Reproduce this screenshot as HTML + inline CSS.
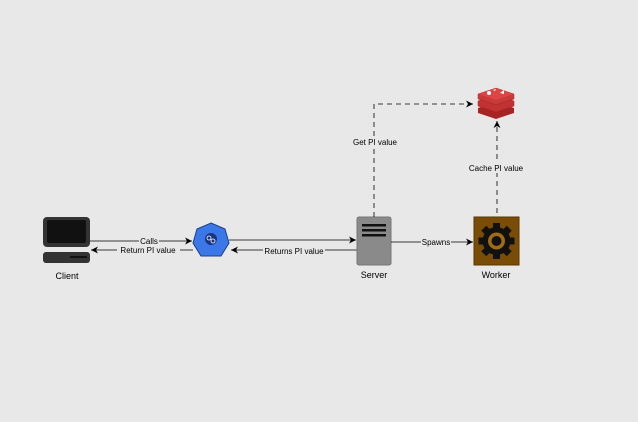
<!DOCTYPE html>
<html><head><style>
body{margin:0;background:#e8e8e8;}
svg{display:block;font-family:"Liberation Sans",sans-serif;}
</style></head><body>
<svg width="638" height="422" viewBox="0 0 638 422">
<defs>
<marker id="a" markerWidth="8" markerHeight="8" refX="7" refY="4" orient="auto" markerUnits="userSpaceOnUse"><path d="M0,0.5 L7,4 L0,7.5 L2,4z" fill="#000"/></marker>
</defs>
<rect width="638" height="422" fill="#e8e8e8"/>
<!-- Client -->
<rect x="43" y="217" width="47" height="30" rx="4" fill="#333"/>
<rect x="47" y="220" width="39" height="23" rx="2" fill="#111"/>
<rect x="43" y="252" width="47" height="11" rx="3" fill="#333"/>
<rect x="70" y="256" width="17" height="2" fill="#111"/>
<text x="67" y="279" font-size="9" text-anchor="middle">Client</text>
<!-- Hex -->
<polygon points="211,223 225,229 229,243 221,256 201,256 193,243 197,229" fill="#3b78e7" stroke="#1a3f8a" stroke-width="1"/>
<circle cx="211" cy="239" r="6" fill="#1a3480"/>
<circle cx="209" cy="238" r="2" fill="none" stroke="#fff" stroke-width="0.8"/>
<circle cx="213" cy="241" r="2" fill="none" stroke="#fff" stroke-width="0.8"/>
<!-- Lines client-hex -->
<line x1="90" y1="241" x2="192" y2="241" stroke="#000" stroke-width="0.8" marker-end="url(#a)"/>
<line x1="193" y1="250" x2="91" y2="250" stroke="#000" stroke-width="0.8" marker-end="url(#a)"/>
<rect x="139" y="237" width="20" height="9" fill="#e8e8e8"/>
<text x="149" y="244" font-size="8" text-anchor="middle">Calls</text>
<rect x="117" y="246" width="63" height="9" fill="#e8e8e8"/>
<text x="148" y="253" font-size="8" text-anchor="middle">Return  PI value</text>
<!-- hex-server -->
<line x1="229" y1="240" x2="356" y2="240" stroke="#000" stroke-width="0.8" marker-end="url(#a)"/>
<line x1="357" y1="250" x2="231" y2="250" stroke="#000" stroke-width="0.8" marker-end="url(#a)"/>
<rect x="263" y="247" width="62" height="9" fill="#e8e8e8"/>
<text x="294" y="254" font-size="8" text-anchor="middle">Returns PI value</text>
<!-- Server -->
<rect x="357" y="217" width="34" height="48" rx="2" fill="#8a8a8a" stroke="#777"/>
<rect x="362" y="224" width="24" height="2.5" fill="#111"/>
<rect x="362" y="229" width="24" height="2.5" fill="#111"/>
<rect x="362" y="234" width="24" height="2.5" fill="#111"/>
<text x="374" y="278" font-size="9" text-anchor="middle">Server</text>
<!-- spawns -->
<line x1="391" y1="242" x2="473" y2="242" stroke="#000" stroke-width="0.8" marker-end="url(#a)"/>
<rect x="421" y="238" width="30" height="9" fill="#e8e8e8"/>
<text x="436" y="245" font-size="8" text-anchor="middle">Spawns</text>
<!-- Worker -->
<rect x="474" y="217" width="45" height="48" fill="#7a4d06" stroke="#5a3804"/>
<g transform="translate(496.5,241)">
<g fill="#111">
<circle r="14"/>
<rect x="-3.5" y="-18" width="7" height="36"/>
<rect x="-3.5" y="-18" width="7" height="36" transform="rotate(45)"/>
<rect x="-3.5" y="-18" width="7" height="36" transform="rotate(90)"/>
<rect x="-3.5" y="-18" width="7" height="36" transform="rotate(135)"/>
</g>
<circle r="8.5" fill="#a06c0f"/>
<circle r="5" fill="#111"/>
</g>
<text x="496" y="278" font-size="9" text-anchor="middle">Worker</text>
<!-- Redis -->
<g>
<path d="M478,108 L496,102 L514,108 L514,113 L496,119 L478,113z" fill="#a82424"/>
<path d="M478,101 L496,95 L514,101 L514,106 L496,112 L478,106z" fill="#c13333" stroke="#a82424" stroke-width="0.5"/>
<path d="M478,94 L496,88 L514,94 L514,99 L496,105 L478,99z" fill="#c83a3a" stroke="#a82424" stroke-width="0.5"/>
<path d="M478,94 L496,88 L514,94 L496,100z" fill="#d44"/>
<circle cx="489" cy="93" r="2" fill="#fff"/>
<path d="M500,93 L504,90 L504,94z" fill="#fff"/>
<path d="M493,90 l3,-1 l-1,2z" fill="#fff"/>
</g>
<!-- dashed -->
<polyline points="374,217 374,104 473,104" fill="none" stroke="#000" stroke-width="0.8" stroke-dasharray="5,4" marker-end="url(#a)"/>
<rect x="352" y="137" width="46" height="10" fill="#e8e8e8"/>
<text x="375" y="145" font-size="8" text-anchor="middle">Get PI value</text>
<line x1="497" y1="213" x2="497" y2="121" stroke="#000" stroke-width="0.8" stroke-dasharray="5,4" marker-end="url(#a)"/>
<rect x="467" y="163" width="58" height="10" fill="#e8e8e8"/>
<text x="496" y="171" font-size="8" text-anchor="middle">Cache PI value</text>
</svg>
</body></html>
